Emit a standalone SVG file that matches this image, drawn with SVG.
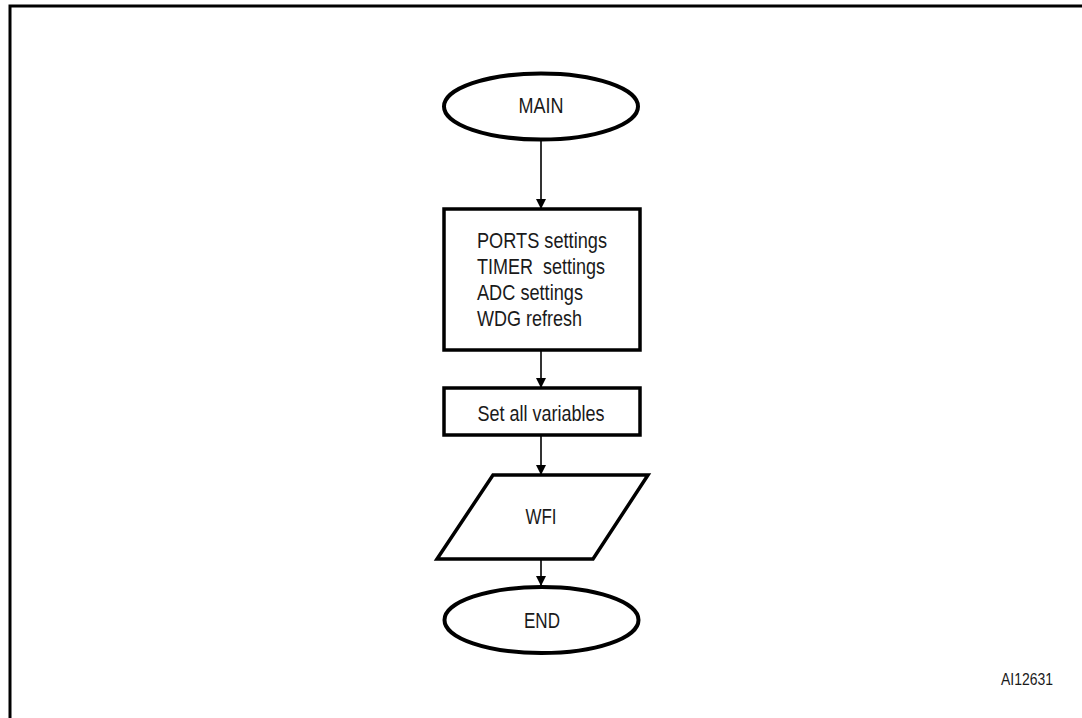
<svg xmlns="http://www.w3.org/2000/svg" width="1082" height="718" viewBox="0 0 1082 718">
  <style>
    .shape { fill: #ffffff; stroke: #000000; stroke-width: 3.5; }
    .term { fill: #ffffff; stroke: #000000; stroke-width: 4; }
    .lbl { font-family: "Liberation Sans", Arial, sans-serif; font-size: 22px; fill: #1a1a1a; }
    .wire { stroke: #333333; stroke-width: 2; fill: none; marker-end: url(#arrow); }
  </style>
  <defs>
    <marker id="arrow" viewBox="0 0 10 12" refX="10" refY="6" markerWidth="11" markerHeight="12" markerUnits="userSpaceOnUse" orient="auto">
      <path d="M0,1 L10,6 L0,11 Z" fill="#000000"/>
    </marker>
  </defs>

  <rect width="1082" height="718" fill="#ffffff"/>
  <!-- figure frame (open at right and bottom) -->
  <path d="M10,718 V6 H1082" fill="none" stroke="#000000" stroke-width="3"/>

  <g id="connectors">
    <line class="wire" x1="541" y1="140" x2="541" y2="209"/>
    <line class="wire" x1="541" y1="350" x2="541" y2="388"/>
    <line class="wire" x1="541" y1="435" x2="541" y2="475"/>
    <line class="wire" x1="541" y1="559" x2="541" y2="586"/>
  </g>

  <g id="main">
    <ellipse class="term" cx="541" cy="106.5" rx="97" ry="33"/>
    <text class="lbl" x="541" y="113" text-anchor="middle" textLength="45" lengthAdjust="spacingAndGlyphs">MAIN</text>
  </g>

  <g id="init">
    <rect class="shape" x="444" y="209" width="196" height="141"/>
    <text class="lbl" x="477" y="248" textLength="130" lengthAdjust="spacingAndGlyphs">PORTS settings</text>
    <text class="lbl" x="477" y="274" textLength="128" lengthAdjust="spacingAndGlyphs" xml:space="preserve">TIMER  settings</text>
    <text class="lbl" x="477" y="300" textLength="106" lengthAdjust="spacingAndGlyphs">ADC settings</text>
    <text class="lbl" x="477" y="326" textLength="105" lengthAdjust="spacingAndGlyphs">WDG refresh</text>
  </g>

  <g id="vars">
    <rect class="shape" x="444" y="388" width="196" height="47"/>
    <text class="lbl" x="541" y="421" text-anchor="middle" textLength="127" lengthAdjust="spacingAndGlyphs">Set all variables</text>
  </g>

  <g id="wfi">
    <polygon class="shape" points="493,475 648,475 593,559 437,559"/>
    <text class="lbl" x="541" y="524" text-anchor="middle" textLength="31" lengthAdjust="spacingAndGlyphs">WFI</text>
  </g>

  <g id="end">
    <ellipse class="term" cx="541.5" cy="620" rx="97" ry="33"/>
    <text class="lbl" x="542" y="628" text-anchor="middle" textLength="36" lengthAdjust="spacingAndGlyphs">END</text>
  </g>

  <text class="lbl" x="1001" y="685" style="font-size:17px" textLength="52" lengthAdjust="spacingAndGlyphs">AI12631</text>
</svg>
